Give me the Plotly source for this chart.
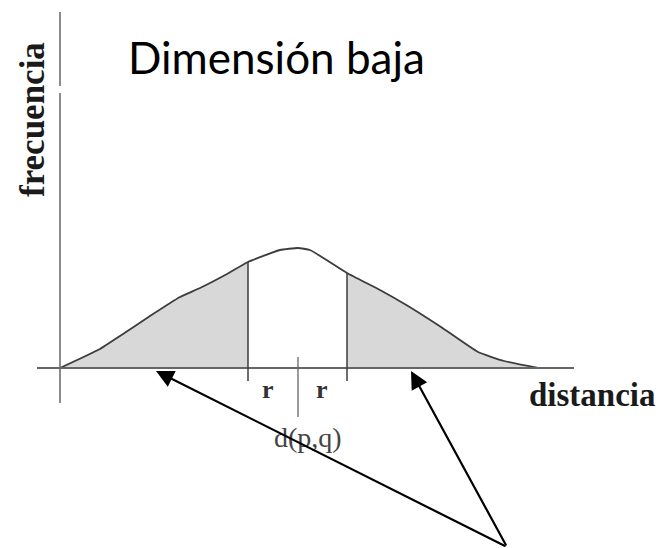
import plotly.graph_objects as go

# Distance values along the horizontal axis and the frequency curve over them
dist_x = [0, 40, 60, 90, 120, 140, 167, 188, 220, 238, 250, 287, 320, 348, 381, 418, 444, 478]
freq_y = [0, 19, 32, 52, 71, 80, 94, 106, 118, 120, 118, 95, 78, 62, 41, 16, 7, 0]

# Query point d(p,q) and the radius r on either side
d_pq = 238
r_left = 188
r_right = 287

# Points the two arrows indicate on the distance axis
arrow_targets = [96, 351]
arrow_origin = (447, -179)

title_text = "Dimensión baja"
x_label = "distancia"
y_label = "frecuencia"

curve_color = "#3c3c3c"
axis_color = "#666666"
fill_color = "#d8d8d8"

fig = go.Figure()

# Shaded tails: everything further than r from d(p,q)
left_x = [x for x in dist_x if x <= r_left]
left_y = [y for x, y in zip(dist_x, freq_y) if x <= r_left]
right_x = [x for x in dist_x if x >= r_right]
right_y = [y for x, y in zip(dist_x, freq_y) if x >= r_right]
for xs, ys in [(left_x, left_y), (right_x, right_y)]:
    fig.add_trace(go.Scatter(x=xs, y=ys, mode="lines", fill="tozeroy",
                             fillcolor=fill_color, line=dict(width=0),
                             hoverinfo="skip", showlegend=False))

# Frequency curve
fig.add_trace(go.Scatter(x=dist_x, y=freq_y, mode="lines",
                         line=dict(color=curve_color, width=1.8, shape="spline", smoothing=0.4),
                         hoverinfo="skip", showlegend=False))

shapes = []
# Vertical (frequency) axis with its small break
shapes.append(dict(type="line", x0=0, x1=0, y0=356, y1=282,
                   line=dict(color=axis_color, width=1.5)))
shapes.append(dict(type="line", x0=0, x1=0, y0=275, y1=-35,
                   line=dict(color=axis_color, width=1.5)))
# Horizontal (distance) axis
shapes.append(dict(type="line", x0=-23, x1=514, y0=0, y1=0,
                   line=dict(color=axis_color, width=2)))
# Boundaries at d(p,q) - r and d(p,q) + r
for bx in (r_left, r_right):
    top = freq_y[dist_x.index(bx)]
    shapes.append(dict(type="line", x0=bx, x1=bx, y0=top, y1=-13,
                       line=dict(color=curve_color, width=1.5)))
# Tick marking d(p,q)
shapes.append(dict(type="line", x0=d_pq, x1=d_pq, y0=11, y1=-49,
                   line=dict(color=axis_color, width=1.3)))
fig.update_layout(shapes=shapes)

annotations = []
serif = "Liberation Serif, Times New Roman, serif"
annotations.append(dict(x=(d_pq + r_left) / 2 - 5, y=-21, text="<b>r</b>", showarrow=False,
                        font=dict(family=serif, size=26, color="#333333")))
annotations.append(dict(x=(d_pq + r_right) / 2 - 1, y=-21, text="<b>r</b>", showarrow=False,
                        font=dict(family=serif, size=26, color="#333333")))
annotations.append(dict(x=d_pq + 10, y=-69, text="d(p,q)", showarrow=False,
                        font=dict(family=serif, size=28, color="#444444")))
annotations.append(dict(x=532, y=-27, text="<b>" + x_label + "</b>", showarrow=False,
                        font=dict(family=serif, size=33, color="#1a1a1a")))
annotations.append(dict(x=-28, y=248, text="<b>" + y_label + "</b>", showarrow=False,
                        textangle=-90,
                        font=dict(family=serif, size=35, color="#1a1a1a")))
annotations.append(dict(x=66, y=311, text=title_text, showarrow=False, xanchor="left",
                        font=dict(family="Lato, Open Sans, sans-serif", size=44, color="#000000")))
for tx in arrow_targets:
    annotations.append(dict(x=tx, y=-3, ax=arrow_origin[0], ay=arrow_origin[1],
                            xref="x", yref="y", axref="x", ayref="y",
                            showarrow=True, arrowhead=2, arrowsize=1.6, arrowwidth=2.2,
                            arrowcolor="#000000", standoff=0, text=""))
fig.update_layout(annotations=annotations)

fig.update_xaxes(range=[-60, 602], visible=False, showgrid=False, zeroline=False)
fig.update_yaxes(range=[-180, 368], visible=False, showgrid=False, zeroline=False)
fig.update_layout(width=662, height=548, margin=dict(l=0, r=0, t=0, b=0),
                  plot_bgcolor="white", paper_bgcolor="white")

fig.write_html("out.html")
